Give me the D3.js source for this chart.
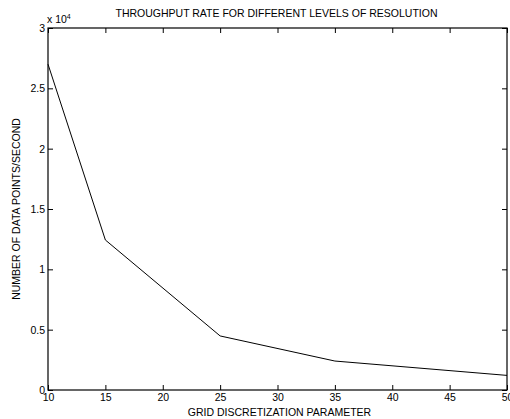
<!DOCTYPE html>
<html><head><meta charset="utf-8">
<script src="https://cdn.jsdelivr.net/npm/d3@7"></script>
<style>body{margin:0;background:#fff}text{font-family:"Liberation Sans",Arial,sans-serif;fill:#000}</style>
</head><body>
<script>
const gridParam = [10, 15, 25, 35, 50];
const pointsPerSecond = [27000, 12430, 4480, 2400, 1210];
const xTicks = [10, 15, 20, 25, 30, 35, 40, 45, 50];
const yTicks = [0, 5000, 10000, 15000, 20000, 25000, 30000];
const yTickLabels = ["0", "0.5", "1", "1.5", "2", "2.5", "3"];
const title = "THROUGHPUT RATE FOR DIFFERENT LEVELS OF RESOLUTION";
const xLabel = "GRID DISCRETIZATION PARAMETER";
const yLabel = "NUMBER OF DATA POINTS/SECOND";

const W = 510, H = 419;
const L = 48, R = 507, T = 28, B = 390;
const svg = d3.select("body").append("svg").attr("width", W).attr("height", H);
const x = d3.scaleLinear().domain([10, 50]).range([L, R]);
const y = d3.scaleLinear().domain([0, 30000]).range([B, T]);

const fs = 10.5;
const gx = svg.append("g").attr("transform", `translate(0,${B})`)
  .call(d3.axisBottom(x).tickValues(xTicks).tickSizeInner(-5).tickSizeOuter(0).tickPadding(4));
const gxt = svg.append("g").attr("transform", `translate(0,${T})`)
  .call(d3.axisTop(x).tickValues(xTicks).tickSizeInner(-5).tickSizeOuter(0).tickFormat(""));
const gy = svg.append("g").attr("transform", `translate(${L},0)`)
  .call(d3.axisLeft(y).tickValues(yTicks).tickSizeInner(-5).tickSizeOuter(0).tickPadding(3)
    .tickFormat((d, i) => yTickLabels[i]));
const gyr = svg.append("g").attr("transform", `translate(${R},0)`)
  .call(d3.axisRight(y).tickValues(yTicks).tickSizeInner(-5).tickSizeOuter(0).tickFormat(""));
[gx, gxt, gy, gyr].forEach(g => {
  g.selectAll("path").remove();
  g.selectAll("line").attr("stroke", "#000").attr("stroke-width", 1);
  g.selectAll("text").attr("font-size", fs).attr("font-family", '"Liberation Sans",Arial,sans-serif').attr("fill", "#000");
});
gx.selectAll("text").attr("dy", "0.71em");
svg.append("rect").attr("x", L).attr("y", T).attr("width", R - L).attr("height", B - T)
  .attr("fill", "none").attr("stroke", "#000").attr("stroke-width", 1.2);

const line = d3.line().x((d, i) => x(gridParam[i])).y(d => y(d));
svg.append("path").datum(pointsPerSecond).attr("d", line)
  .attr("fill", "none").attr("stroke", "#000").attr("stroke-width", 1);

const ex = svg.append("text").attr("x", L - 1).attr("y", 23).attr("font-size", fs);
ex.append("tspan").text("x 10");
ex.append("tspan").attr("dy", -4).attr("font-size", 7).text("4");

svg.append("text").attr("x", (L + R) / 2 - 1).attr("y", 17).attr("text-anchor", "middle").attr("font-size", fs).text(title);
svg.append("text").attr("x", (L + R) / 2 + 2).attr("y", 416).attr("text-anchor", "middle").attr("font-size", fs).text(xLabel);
svg.append("text").attr("transform", `translate(20,${(T + B) / 2}) rotate(-90)`).attr("text-anchor", "middle").attr("font-size", fs).text(yLabel);
</script>
</body></html>
